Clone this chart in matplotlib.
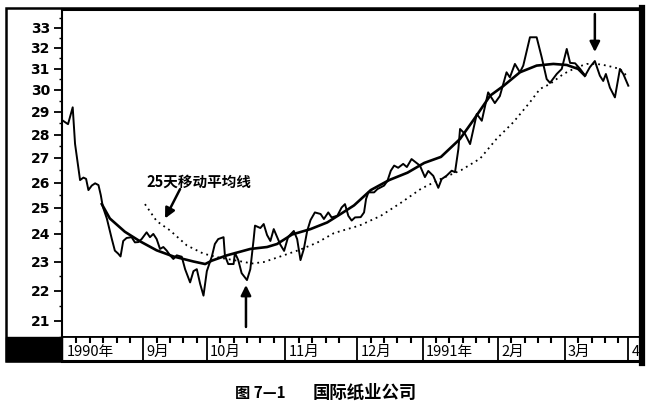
import matplotlib
matplotlib.use('Agg')
import matplotlib.pyplot as plt
from matplotlib.patches import Rectangle
from matplotlib.lines import Line2D
from matplotlib.ticker import FixedLocator, NullFormatter

# 收盘价 (交易日序号, 价格), 1990年8月起
close_day = [0, 1.5, 2.9, 3.6, 5.1, 6.1, 6.9, 7.6, 8.6, 9.6, 10.6, 11.3, 11.9, 13.1, 14.6,
             15.5, 16.5, 17.2, 18.0, 19.0, 20.5, 21.5, 22.5, 23.5, 25.0, 26.0, 27.0, 28.0,
             29.0, 30.0, 31.0, 32.0, 33.0, 34.0, 35.5, 36.5, 38.0, 39.0, 40.0, 41.0, 42.0,
             43.0, 44.5, 45.4, 46.4, 48.0, 48.4, 49.4, 51.0, 51.4, 52.4, 53.4, 55.0, 56.0,
             57.0, 57.4, 59.0, 60.0, 61.0, 62.0, 63.0, 64.0, 65.0, 66.1, 67.3, 69.0, 70.0,
             71.0, 72.0, 73.0, 74.0, 75.3, 77.0, 78.0, 79.3, 80.3, 82.0, 83.3, 84.3, 85.3,
             86.3, 87.3, 89.0, 90.0, 90.6, 91.3, 93.0, 94.0, 96.0, 97.0, 98.0, 99.0, 100.2,
             101.7, 102.8, 104.2, 105.7, 106.7, 108.2, 109.2, 110.7, 112.2, 113.2, 114.7,
             116.2, 117.2, 118.2, 118.7, 120.2, 121.7, 123.7, 125.2, 127.1, 129.1, 130.6,
             132.6, 133.6, 135.1, 136.6, 137.6, 139.6, 141.6, 143.1, 144.6, 145.6, 147.6,
             149.1, 150.6, 151.6, 153.1, 154.6, 156.1, 157.5, 159.0, 160.5, 161.5, 162.3,
             163.5, 165.0, 166.5, 167.5, 169.0]
close = [28.6, 28.45, 29.2, 27.6, 26.1, 26.2, 26.15, 25.7, 25.88, 25.97, 25.9, 25.5, 25.05,
         24.6, 23.83, 23.41, 23.3, 23.2, 23.76, 23.87, 23.9, 23.71, 23.72, 23.83, 24.08, 23.9,
         24.02, 23.83, 23.47, 23.54, 23.41, 23.24, 23.11, 23.24, 23.19, 22.75, 22.29, 22.68,
         22.75, 22.24, 21.84, 22.68, 23.2, 23.65, 23.83, 23.9, 23.23, 22.93, 22.93, 23.33,
         23.07, 22.61, 22.37, 22.75, 23.83, 24.33, 24.24, 24.39, 23.98, 23.76, 24.2, 23.91,
         23.62, 23.4, 23.91, 24.13, 23.83, 23.07, 23.47, 24.13, 24.54, 24.83, 24.77, 24.58,
         24.83, 24.64, 24.7, 25.02, 25.15, 24.7, 24.52, 24.64, 24.65, 24.83, 25.35, 25.61,
         25.61, 25.74, 25.88, 26.07, 26.48, 26.69, 26.6, 26.76, 26.63, 26.96, 26.8, 26.69,
         26.22, 26.47, 26.27, 25.79, 26.14, 26.28, 26.48, 26.42, 27.38, 28.24, 28.02, 27.59,
         28.9, 28.6, 29.88, 29.39, 29.71, 30.82, 30.58, 31.22, 30.82, 31.14, 32.53, 32.53,
         31.55, 30.5, 30.32, 30.74, 30.98, 31.95, 31.27, 31.25, 30.98, 30.66, 31.06, 31.36,
         30.66, 30.41, 30.74, 30.1, 29.65, 30.98, 30.74, 30.19]

# 短期移动平均线 (实线)
ma_short_day = [11.6, 14.0, 18.5, 23.0, 28.0, 33.0, 39.0, 42.5, 44.5, 49.0, 56.0, 61.0, 64.0,
                68.5, 74.0, 79.0, 83.0, 87.0, 92.0, 97.5, 103.0, 108.0, 113.0, 118.7, 122.7,
                127.7, 131.6, 136.6, 141.6, 146.6, 150.6, 154.0, 156.0]
ma_short = [25.15, 24.6, 24.1, 23.75, 23.42, 23.2, 23.02, 22.93, 23.05, 23.24, 23.47, 23.54,
            23.65, 24.0, 24.2, 24.45, 24.77, 25.1, 25.7, 26.1, 26.4, 26.8, 27.05, 27.81, 28.63,
            29.73, 30.17, 30.82, 31.14, 31.22, 31.17, 30.98, 30.66]

# 25天移动平均线 (点线)
ma25_day = [24.5, 28.0, 32.0, 37.0, 42.0, 47.0, 52.0, 56.5, 60.0, 65.0, 71.0, 76.0, 81.0,
            85.0, 88.6, 95.0, 101.0, 107.0, 113.0, 119.0, 124.7, 129.6, 134.6, 139.6, 142.6,
            145.6, 149.6, 153.6, 156.6, 159.6, 162.6, 166.5, 168.5]
ma25 = [25.15, 24.5, 24.15, 23.6, 23.3, 23.15, 23.05, 22.95, 23.0, 23.2, 23.45, 23.7, 24.05,
        24.2, 24.33, 24.7, 25.2, 25.75, 26.15, 26.5, 26.98, 27.81, 28.53, 29.43, 30.04, 30.27,
        30.74, 31.06, 31.22, 31.22, 31.14, 30.98, 30.66]

yticks = [21, 22, 23, 24, 25, 26, 27, 28, 29, 30, 31, 32, 33]
month_start = [0, 24, 43, 66.5, 88, 107.5, 130, 150, 169]
month_labels = ['1990年', '9月', '10月', '11月', '12月', '1991年', '2月', '3月', '4']

plt.rcParams['font.family'] = ['Noto Sans CJK SC', 'DejaVu Sans']

W, H = 650, 406
fig = plt.figure(figsize=(6.5, 4.06), dpi=100)


def fx(px):
    return px / W


def fy(py):
    return 1 - py / H


ax = fig.add_axes([fx(62), fy(338), fx(639) - fx(62), fy(10) - fy(338)])
ax2 = fig.add_axes([fx(62), fy(362), fx(639) - fx(62), fy(338) - fy(362)])

ax.plot(close_day, close, color='black', lw=1.4)
ax.plot(ma_short_day, ma_short, color='black', lw=1.9)
ax.plot(ma25_day, ma25, color='black', lw=1.3, linestyle=(0, (1, 2.2)))

ax.set_yscale('log')
ax.set_ylim(20.49, 33.98)
ax.set_xlim(-0.3, 172.2)
ax.yaxis.set_major_locator(FixedLocator(yticks))
ax.yaxis.set_major_formatter(NullFormatter())
ax.yaxis.set_minor_locator(FixedLocator([v + 0.5 for v in yticks[:-1]] + [20.5, 33.5]))
ax.yaxis.set_minor_formatter(NullFormatter())
ax.tick_params(axis='y', which='major', length=5.5, width=1.3)
ax.tick_params(axis='y', which='minor', length=2.5, width=1)
ax.tick_params(axis='x', which='both', bottom=False, labelbottom=False)
# 纵轴数字 (粗体)
for v in yticks:
    ax.text(-0.021, v, str(v), transform=ax.get_yaxis_transform(), ha='right', va='center',
            fontsize=10, fontweight='bold', family='DejaVu Sans')
ax.spines['left'].set_linewidth(1.5)
ax.spines['top'].set_linewidth(2.2)
ax.spines['right'].set_visible(False)
ax.spines['bottom'].set_linewidth(1.3)

# 注释
ax.text(25.1, 26.06, '25天移动平均线', fontsize=10.5, fontweight='bold', va='center', ha='left')
arrow = dict(arrowstyle='-|>,head_length=0.6,head_width=0.3', lw=1.8, color='black',
             shrinkA=0, shrinkB=0)
ax.annotate('', xy=(30.5, 24.6), xytext=(35.0, 25.74), arrowprops=arrow)
ax.annotate('', xy=(159.0, 31.8), xytext=(159.0, 33.72), arrowprops=arrow)
ax.annotate('', xy=(54.7, 22.2), xytext=(54.7, 20.81), arrowprops=arrow)

# 月份刻度条
ax2.set_xlim(-0.3, 172.2)
ax2.set_ylim(0, 1)
ax2.set_yticks([])
week_ticks = []
for a, b in zip(month_start[:-1], month_start[1:]):
    t = a + 4
    while t < b - 1.5:
        week_ticks.append(t)
        t += 4
ax2.xaxis.set_ticks_position('top')
ax2.set_xticks(week_ticks)
ax2.tick_params(axis='x', direction='in', length=4, width=1.5, labeltop=False, labelbottom=False)
for m in month_start[1:]:
    ax2.axvline(m, color='black', lw=1.3)
for m, lab in zip(month_start, month_labels):
    ax2.text(m + 1.0, 0.4, lab, fontsize=10.5, va='center', ha='left', clip_on=True)
ax2.spines['top'].set_linewidth(1.3)
ax2.spines['bottom'].set_linewidth(2.2)
ax2.spines['left'].set_linewidth(1.5)
ax2.spines['right'].set_visible(False)

# 外框
fig.add_artist(Rectangle((fx(6), fy(362)), fx(640) - fx(6), fy(9) - fy(362),
                         transform=fig.transFigure, fill=False, lw=1.8, ec='black'))
fig.add_artist(Rectangle((fx(6), fy(362)), fx(62) - fx(6), fy(338) - fy(362),
                         transform=fig.transFigure, color='black'))
fig.add_artist(Line2D([fx(641.5), fx(641.5)], [fy(9), fy(364)], transform=fig.transFigure,
                      color='black', lw=4.5))

fig.text(fx(260), fy(393), '图 7—1', ha='center', va='center', fontsize=11, fontweight='bold')
fig.text(fx(365), fy(393), '国际纸业公司', ha='center', va='center', fontsize=12.5,
         fontweight='bold')

fig.savefig('out.png', dpi=100)
